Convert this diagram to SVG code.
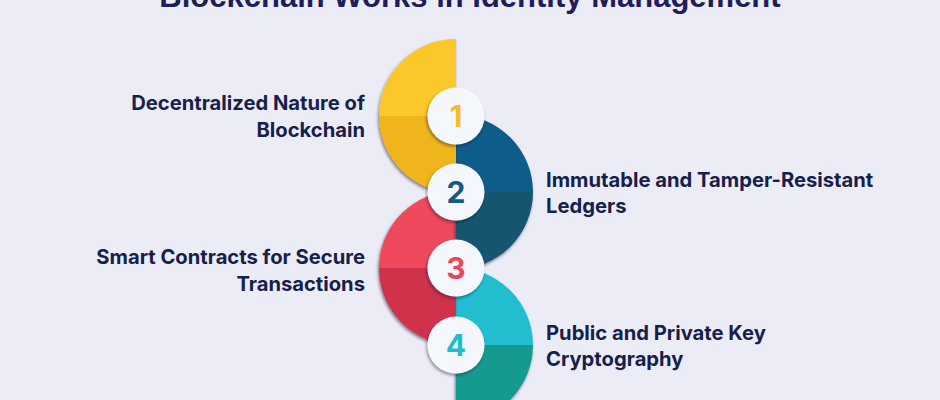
<svg xmlns="http://www.w3.org/2000/svg" width="940" height="400" viewBox="0 0 940 400">
<defs>
<filter id="sh" x="-20%" y="-20%" width="140%" height="140%">
<feDropShadow dx="-1" dy="2" stdDeviation="1.6" flood-color="#1a1a2e" flood-opacity="0.55"/>
</filter>
<filter id="csh" x="-30%" y="-30%" width="160%" height="160%">
<feDropShadow dx="-1" dy="2" stdDeviation="1.5" flood-color="#1a1a2e" flood-opacity="0.45"/>
</filter>
<style>
.title{font-family:"Liberation Sans",Arial,sans-serif;font-weight:bold;font-size:31px;fill:#1f1d5a}
.lbl{font-family:Inter,"Liberation Sans",sans-serif;font-weight:700;font-size:20.2px;fill:#15214a}
.num{font-family:Inter,"Liberation Sans",sans-serif;font-weight:700;font-size:30px;text-anchor:middle}
.badge{fill:#f4f8fc}
</style>
</defs>
<rect width="940" height="400" fill="#ececf6"/>
<text class="title" x="470" y="7" text-anchor="middle">Blockchain Works in Identity Management</text>

<g id="step4">
<g filter="url(#sh)">
<path d="M456,345 L456,268 A77,77 0 0 1 533,345 Z" fill="#24bdcf"/>
<path d="M456,345 L533,345 A77,77 0 0 1 456,422 Z" fill="#169a90"/>
</g>
</g>
<g id="step3">
<g filter="url(#sh)">
<path d="M456,268 L379,268 A77,77 0 0 1 456,191 Z" fill="#ee4a5c"/>
<path d="M456,268 L456,345 A77,77 0 0 1 379,268 Z" fill="#d0304c"/>
</g>
</g>
<g id="step2">
<g filter="url(#sh)">
<path d="M456,192 L456,115 A77,77 0 0 1 533,192 Z" fill="#0f5c8a"/>
<path d="M456,192 L533,192 A77,77 0 0 1 456,269 Z" fill="#135570"/>
</g>
</g>
<g id="step1">
<g filter="url(#sh)">
<path d="M456,116 L379,116 A77,77 0 0 1 456,39 Z" fill="#fcc72c"/>
<path d="M456,116 L456,193 A77,77 0 0 1 379,116 Z" fill="#f0b41f"/>
</g>
</g>

<g id="badge1"><circle class="badge" cx="456" cy="116" r="28.5" filter="url(#csh)"/><text class="num" x="456" y="127" fill="#f7be22">1</text></g>
<g id="badge2"><circle class="badge" cx="456" cy="192" r="28.5" filter="url(#csh)"/><text class="num" x="456" y="203" fill="#135a85">2</text></g>
<g id="badge3"><circle class="badge" cx="456" cy="268" r="28.5" filter="url(#csh)"/><text class="num" x="456" y="279" fill="#ee4458">3</text></g>
<g id="badge4"><circle class="badge" cx="456" cy="345" r="28.5" filter="url(#csh)"/><text class="num" x="456" y="356" fill="#22bcd0">4</text></g>

<g id="label1"><text class="lbl" text-anchor="end"><tspan x="365" y="110">Decentralized Nature of</tspan><tspan x="365" y="137">Blockchain</tspan></text></g>
<g id="label2"><text class="lbl"><tspan x="546" y="187">Immutable and Tamper-Resistant</tspan><tspan x="546" y="213">Ledgers</tspan></text></g>
<g id="label3"><text class="lbl" text-anchor="end"><tspan x="365" y="264">Smart Contracts for Secure</tspan><tspan x="365" y="291">Transactions</tspan></text></g>
<g id="label4"><text class="lbl"><tspan x="546" y="340">Public and Private Key</tspan><tspan x="546" y="366">Cryptography</tspan></text></g>
<g id="connectors"/>
</svg>
